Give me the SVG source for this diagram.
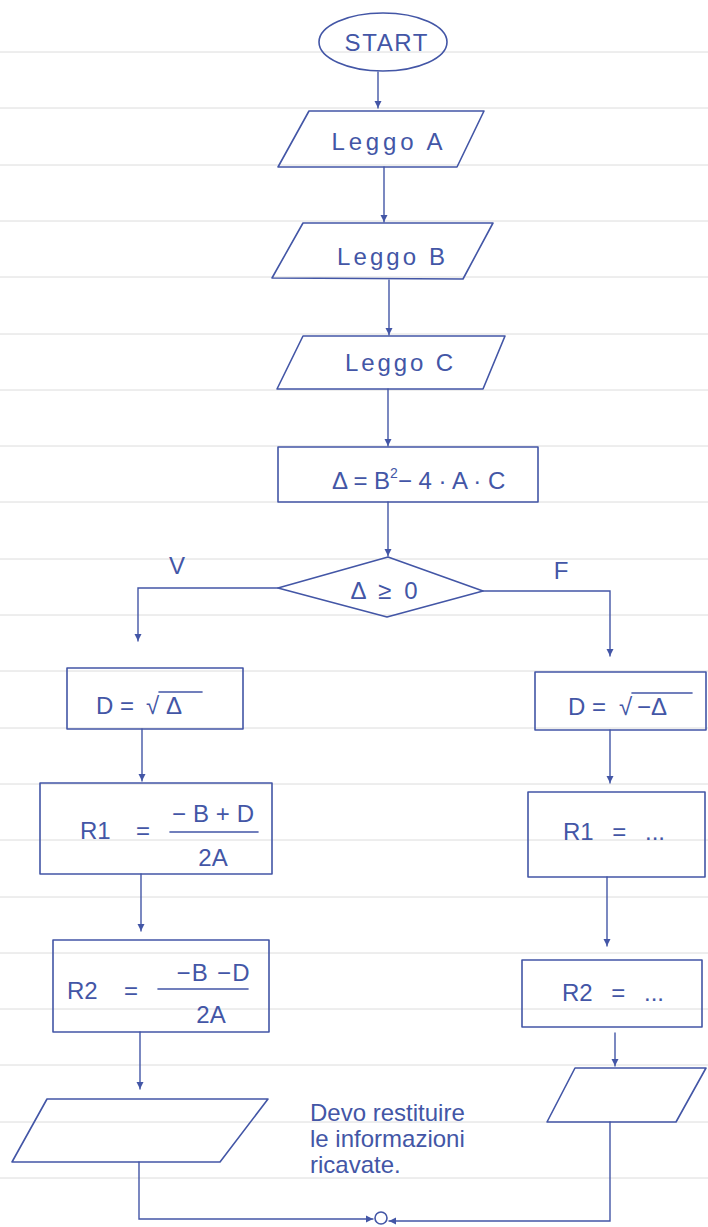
<svg xmlns="http://www.w3.org/2000/svg" width="708" height="1227" viewBox="0 0 708 1227">
<style>
.rule{stroke:#dcdcdc;stroke-width:1}
.s{fill:none;stroke:#4356a6;stroke-width:1.6;stroke-linejoin:round;stroke-linecap:round}
.c{fill:none;stroke:#4356a6;stroke-width:1.4;stroke-linecap:round}
.t{font-family:"Liberation Sans","DejaVu Sans",sans-serif;fill:#4356a6;font-size:24px}
.m{text-anchor:middle}
.ws{word-spacing:12px}
</style>
<defs>
<marker id="ah" markerWidth="8" markerHeight="8" refX="7" refY="4" orient="auto" markerUnits="userSpaceOnUse">
<path d="M0,0.5 L7,4 L0,7.5 Z" fill="#4356a6"/>
</marker>
</defs>
<rect width="708" height="1227" fill="#ffffff"/>
<g id="paper">
<line class="rule" x1="0" y1="52" x2="708" y2="52"/>
<line class="rule" x1="0" y1="108" x2="708" y2="108"/>
<line class="rule" x1="0" y1="165" x2="708" y2="165"/>
<line class="rule" x1="0" y1="221" x2="708" y2="221"/>
<line class="rule" x1="0" y1="277" x2="708" y2="277"/>
<line class="rule" x1="0" y1="334" x2="708" y2="334"/>
<line class="rule" x1="0" y1="390" x2="708" y2="390"/>
<line class="rule" x1="0" y1="446" x2="708" y2="446"/>
<line class="rule" x1="0" y1="502" x2="708" y2="502"/>
<line class="rule" x1="0" y1="559" x2="708" y2="559"/>
<line class="rule" x1="0" y1="615" x2="708" y2="615"/>
<line class="rule" x1="0" y1="671" x2="708" y2="671"/>
<line class="rule" x1="0" y1="728" x2="708" y2="728"/>
<line class="rule" x1="0" y1="784" x2="708" y2="784"/>
<line class="rule" x1="0" y1="840" x2="708" y2="840"/>
<line class="rule" x1="0" y1="897" x2="708" y2="897"/>
<line class="rule" x1="0" y1="953" x2="708" y2="953"/>
<line class="rule" x1="0" y1="1009" x2="708" y2="1009"/>
<line class="rule" x1="0" y1="1065" x2="708" y2="1065"/>
<line class="rule" x1="0" y1="1122" x2="708" y2="1122"/>
<line class="rule" x1="0" y1="1178" x2="708" y2="1178"/>
</g>
<g id="connectors">
<line class="c" x1="378" y1="72" x2="378" y2="108" marker-end="url(#ah)"/>
<line class="c" x1="384" y1="167" x2="384" y2="222" marker-end="url(#ah)"/>
<line class="c" x1="389" y1="280" x2="389" y2="335" marker-end="url(#ah)"/>
<line class="c" x1="388" y1="389" x2="388" y2="446" marker-end="url(#ah)"/>
<line class="c" x1="388" y1="502" x2="388" y2="556" marker-end="url(#ah)"/>
<polyline class="c" points="278,588 138,588 138,641" marker-end="url(#ah)"/>
<polyline class="c" points="483,591 610,591 610,656" marker-end="url(#ah)"/>
<line class="c" x1="142" y1="729" x2="142" y2="781" marker-end="url(#ah)"/>
<line class="c" x1="141" y1="874" x2="141" y2="931" marker-end="url(#ah)"/>
<line class="c" x1="140" y1="1032" x2="140" y2="1089" marker-end="url(#ah)"/>
<line class="c" x1="610" y1="730" x2="610" y2="783" marker-end="url(#ah)"/>
<line class="c" x1="607" y1="877" x2="607" y2="946" marker-end="url(#ah)"/>
<line class="c" x1="615" y1="1033" x2="615" y2="1066" marker-end="url(#ah)"/>
<polyline class="c" points="139,1162 139,1219 373,1219" marker-end="url(#ah)"/>
<polyline class="c" points="610,1122 610,1221 389,1221" marker-end="url(#ah)"/>
<text class="t m" x="177" y="574">V</text>
<text class="t m" x="561" y="579">F</text>
</g>
<g id="start">
<ellipse class="s" cx="383" cy="42" rx="64" ry="29"/>
<text class="t m" x="386" y="51" textLength="83" lengthAdjust="spacing">START</text>
</g>
<g id="leggoA">
<polygon class="s" points="309,111 484,111 457,167 278,167"/>
<text class="t m" x="387" y="150" font-size="26" textLength="111" lengthAdjust="spacing">Leggo A</text>
</g>
<g id="leggoB">
<polygon class="s" points="303,223 493,223 463,279 272,278"/>
<text class="t m" x="391" y="265" font-size="26" textLength="108" lengthAdjust="spacing">Leggo B</text>
</g>
<g id="leggoC">
<polygon class="s" points="303,336 505,336 483,389 277,389"/>
<text class="t m" x="399" y="371" font-size="26" textLength="108" lengthAdjust="spacing">Leggo C</text>
</g>
<g id="delta">
<rect class="s" x="278" y="447" width="260" height="55"/>
<text class="t" x="332" y="489">Δ  =  B<tspan dy="-11" font-size="14">2</tspan><tspan dy="11">− 4 · A · C</tspan></text>
</g>
<g id="decision">
<polygon class="s" points="388,557 483,591 387,617 278,588"/>
<text class="t m" x="384" y="599" textLength="67" lengthAdjust="spacing">Δ ≥ 0</text>
</g>
<g id="dLeft">
<rect class="s" x="67" y="668" width="176" height="61"/>
<text class="t" x="96" y="714">D =</text>
<text class="t" x="146" y="714" font-size="32">√</text>
<line class="s" x1="159" y1="692" x2="202" y2="692"/>
<text class="t" x="166" y="714">Δ</text>
</g>
<g id="r1Left">
<rect class="s" x="40" y="783" width="232" height="91"/>
<text class="t" x="80" y="839">R1</text>
<text class="t" x="136" y="839">=</text>
<text class="t m" x="213" y="822" textLength="82" lengthAdjust="spacing">−B+D</text>
<line class="s" x1="170" y1="832" x2="258" y2="832"/>
<text class="t m" x="213" y="866">2A</text>
</g>
<g id="r2Left">
<rect class="s" x="53" y="940" width="216" height="92"/>
<text class="t" x="67" y="999">R2</text>
<text class="t" x="124" y="999">=</text>
<text class="t m" x="213" y="981" textLength="73" lengthAdjust="spacing">−B −D</text>
<line class="s" x1="158" y1="989" x2="248" y2="989"/>
<text class="t m" x="211" y="1023">2A</text>
</g>
<g id="outLeft">
<polygon class="s" points="47,1099 268,1099 220,1162 12,1162"/>
</g>
<g id="dRight">
<rect class="s" x="535" y="672" width="171" height="58"/>
<text class="t" x="568" y="715">D =</text>
<text class="t" x="619" y="715" font-size="32">√</text>
<line class="s" x1="632" y1="693" x2="692" y2="693"/>
<text class="t" x="637" y="715">−Δ</text>
</g>
<g id="r1Right">
<rect class="s" x="528" y="792" width="177" height="85"/>
<text class="t m ws" x="614" y="840">R1 = ...</text>
</g>
<g id="r2Right">
<rect class="s" x="522" y="960" width="180" height="67"/>
<text class="t m ws" x="613" y="1001">R2 = ...</text>
</g>
<g id="outRight">
<polygon class="s" points="575,1068 706,1068 676,1122 547,1122"/>
</g>
<g id="note">
<text class="t" x="310" y="1121" font-size="17">Devo restituire</text>
<text class="t" x="310" y="1147" font-size="17">le informazioni</text>
<text class="t" x="310" y="1173" font-size="17">ricavate.</text>
</g>
<g id="end">
<circle class="s" cx="381" cy="1218" r="6"/>
</g>
</svg>
